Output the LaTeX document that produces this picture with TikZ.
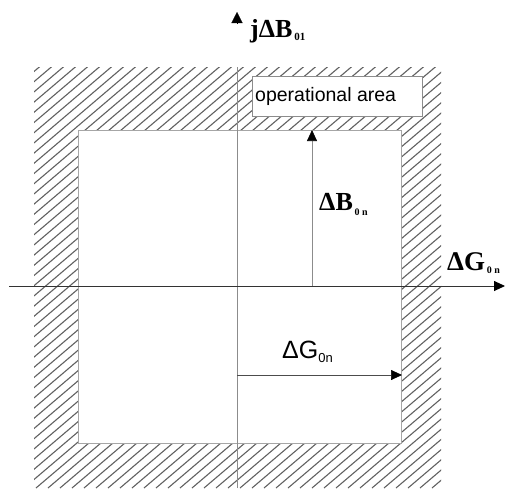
\documentclass[tikz,border=0pt]{standalone}
\usepackage{fontspec}
\setmainfont{Liberation Serif}
\newfontfamily\arialfont{Liberation Sans}
\usetikzlibrary{arrows.meta,positioning}

\begin{document}
\begin{tikzpicture}[
    x=1pt, y=-1pt,
    hatch/.style={draw=black!62, line width=1.1pt},
    frame/.style={draw=black!35, line width=0.8pt, fill=white},
    axis/.style={draw=black!80, line width=0.9pt},
    thinaxis/.style={draw=black!45, line width=0.7pt},
    arrow/.style={-{Triangle[length=11pt, width=10pt, color=black]}},
    opbox/.style={draw=black!45, line width=0.8pt, fill=white, minimum width=170pt, minimum height=40pt, inner sep=0pt},
    boldlbl/.style={font=\bfseries\fontsize{26}{26}\selectfont, inner sep=0pt, anchor=base west},
    sanslbl/.style={font=\arialfont\fontsize{25}{25}\selectfont, inner sep=0pt, anchor=base west}
]
\useasboundingbox (0,0) rectangle (509,488);

% hatched border zone
\begin{scope}
\clip (34,67) rectangle (441,488);
\foreach \i in {-600,-588,...,450}
    \draw[hatch] (\i,488) -- ++(560,-476);
\end{scope}
\draw[frame] (78,130) rectangle (401,443);

% box with the label
\node[opbox] (area) at (337,96) {};
\node[font=\arialfont\fontsize{19.5}{19.5}\selectfont, inner sep=0pt, anchor=base west] (arealbl) at (255,101) {operational area};

% axes
\coordinate (vbot) at (237,488);
\coordinate (vtop) at (237,67);
\coordinate (htail) at (9,286);
\coordinate (hhead) at (505,286);
\draw[thinaxis] (vbot) -- (vtop);
\coordinate (jtail) at (237,24);
\coordinate (jhead) at (237,12);
\draw[line width=0.1pt, -{Triangle[length=11pt, width=11pt]}] (jtail) -- (jhead);
\draw[axis, arrow] (htail) -- (hhead);

% increments
\coordinate (btail) at (312,286);
\coordinate (bhead) at (312,130);
\draw[thinaxis, arrow] (btail) -- (bhead);
\coordinate (gtail) at (237,375);
\coordinate (ghead) at (402,375);
\draw[draw=black!70, line width=0.7pt, arrow] (gtail) -- (ghead);

% labels
\node[boldlbl] (jb) at (250,37) {jΔB\raisebox{-3pt}{\fontsize{11}{11}\selectfont\,01}};
\node[boldlbl] (db) at (319,210) {ΔB\raisebox{-5pt}{\fontsize{10}{10}\selectfont\,0 n}};
\node[boldlbl, font=\bfseries\fontsize{27}{27}\selectfont] (dgb) at (447,270) {ΔG\raisebox{-3pt}{\fontsize{10}{10}\selectfont\,0 n}};
\node[sanslbl] (dg) at (282,358) {ΔG\raisebox{-4pt}{\fontsize{13}{13}\selectfont 0n}};
\end{tikzpicture}
\end{document}
